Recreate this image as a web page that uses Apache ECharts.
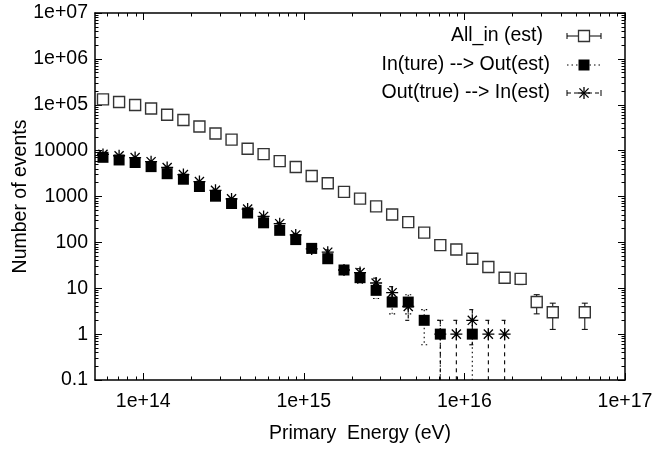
<!DOCTYPE html>
<html>
<head>
<meta charset="utf-8">
<script src="https://cdn.jsdelivr.net/npm/echarts@6/dist/echarts.min.js"></script>
<style>
  html, body { margin: 0; padding: 0; background: #fff; }
  #chart { width: 652px; height: 450px; }
</style>
</head>
<body>
<div id="chart"></div>
<script>
// Bin centres of primary energy (eV), 0.1 decade wide
const energy = [5.62e13, 7.08e13, 8.91e13, 1.12e14, 1.41e14, 1.78e14, 2.24e14, 2.82e14, 3.55e14, 4.47e14,
                5.62e14, 7.08e14, 8.91e14, 1.12e15, 1.41e15, 1.78e15, 2.24e15, 2.82e15, 3.55e15, 4.47e15,
                5.62e15, 7.08e15, 8.91e15, 1.12e16, 1.41e16, 1.78e16, 2.24e16, 2.82e16, 3.55e16, 4.47e16,
                5.62e16];

// Event counts per bin (null = empty bin)
const allIn   = [131000, 115000, 99000, 83000, 60500, 46500, 33500, 23700, 17400, 11000,
                 8400, 5900, 4400, 2800, 1950, 1260, 900, 608, 404, 276,
                 163, 87, 70, 44, 29, 17, 16, 5, 3, null, 3];
const inToOut = [7150, 6260, 5510, 4480, 3140, 2380, 1650, 1015, 704, 437,
                 267, 183, 115, 74, 44, 25, 17, 9, 5, 5,
                 2, 1, null, 1, null, null, null, null, null, null, null];
const outToIn = [8280, 7740, 7050, 5730, 4290, 3000, 2120, 1360, 887, 532,
                 368, 255, 145, 72, 61, 25, 22, 13, 8, 4,
                 null, 1, 1, 2, 1, 1, null, null, null, null, null];

const seriesNames = ['All_in (est)', 'In(ture) --> Out(est)', 'Out(true) --> In(est)'];

const xMajorTicks = [1e14, 1e15, 1e16, 1e17];
const xTickLabels = ['1e+14', '1e+15', '1e+16', '1e+17'];
const yMajorTicks = [0.1, 1, 10, 100, 1000, 1e4, 1e5, 1e6, 1e7];
const yTickLabels = ['0.1', '1', '10', '100', '1000', '10000', '1e+05', '1e+06', '1e+07'];

const X_MIN = Math.pow(10, 13.7);
const X_MAX = 1e17;
const Y_MIN = 0.1;
const Y_MAX = 1e7;

const FONT = '"Liberation Sans", Arial, Helvetica, sans-serif';
const FONT_SIZE = 19.5;

// minor ticks at 2..9 of every decade inside a range
function minorTicks(lo, hi) {
  const out = [];
  for (let e = Math.floor(Math.log10(lo)); e <= Math.ceil(Math.log10(hi)); e++) {
    for (let m = 2; m <= 9; m++) {
      const v = m * Math.pow(10, e);
      if (v > lo && v < hi) out.push(v);
    }
  }
  return out;
}

function labelFor(ticks, labels) {
  return function (val) {
    let best = 0, bestD = Infinity;
    ticks.forEach((t, i) => {
      const d = Math.abs(Math.log10(t) - Math.log10(val));
      if (d < bestD) { bestD = d; best = i; }
    });
    return labels[best];
  };
}

const points = (vals) => vals.map((v, i) => v == null ? null : [energy[i], v]).filter(Boolean);

// Poisson error bars: [x, low, high, hasLowCap]
const errors = (vals) => vals.map((v, i) => {
  if (v == null) return null;
  const s = Math.sqrt(v);
  const lo = v - s;
  return lo > Y_MIN ? [energy[i], lo, v + s, 1] : [energy[i], Y_MIN, v + s, 0];
}).filter(Boolean);

function errorBarRenderer(dash, capHalf, width) {
  return function (params, api) {
    const x = api.value(0);
    const top = api.coord([x, api.value(2)]);
    const bot = api.coord([x, api.value(1)]);
    const style = { stroke: '#000', lineWidth: width, lineDash: dash, fill: null };
    const children = [
      { type: 'line', shape: { x1: top[0], y1: top[1], x2: bot[0], y2: bot[1] }, style: style },
      { type: 'line', shape: { x1: top[0] - capHalf, y1: top[1], x2: top[0] + capHalf, y2: top[1] }, style: style }
    ];
    if (api.value(3) > 0) {
      children.push({ type: 'line', shape: { x1: bot[0] - capHalf, y1: bot[1], x2: bot[0] + capHalf, y2: bot[1] }, style: style });
    }
    return { type: 'group', children: children };
  };
}

const STAR_PATH = 'path://M5,0L5,10M0,5L10,5M1.2,1.2L8.8,8.8M8.8,1.2L1.2,8.8';

const axisLineStyle = { color: '#000', width: 1.5 };

function xAxisDef(position, major, showLabels) {
  return {
    type: 'log', logBase: 10, min: X_MIN, max: X_MAX, position: position,
    axisLine: { show: major, lineStyle: axisLineStyle },
    axisTick: { show: true, inside: true, length: major ? 7 : 3.5,
                customValues: major ? xMajorTicks : minorTicks(X_MIN, X_MAX),
                lineStyle: { color: '#000', width: 1 } },
    axisLabel: showLabels ? {
      show: true, customValues: xMajorTicks, formatter: labelFor(xMajorTicks, xTickLabels),
      margin: 12, color: '#000', fontSize: FONT_SIZE, fontFamily: FONT
    } : { show: false },
    splitLine: { show: false }
  };
}

function yAxisDef(position, major, showLabels) {
  return {
    type: 'log', logBase: 10, min: Y_MIN, max: Y_MAX, position: position,
    axisLine: { show: major, lineStyle: axisLineStyle },
    axisTick: { show: true, inside: true, length: major ? 7 : 3.5,
                customValues: major ? yMajorTicks : minorTicks(Y_MIN, Y_MAX),
                lineStyle: { color: '#000', width: 1 } },
    axisLabel: showLabels ? {
      show: true, customValues: yMajorTicks, formatter: labelFor(yMajorTicks, yTickLabels),
      margin: 7, color: '#000', fontSize: FONT_SIZE, fontFamily: FONT
    } : { show: false },
    splitLine: { show: false }
  };
}

const xAxes = [
  Object.assign(xAxisDef('bottom', true, true), {
    name: 'Primary  Energy (eV)', nameLocation: 'middle', nameGap: 44, nameMoveOverlap: false,
    nameTextStyle: { color: '#000', fontSize: FONT_SIZE, fontFamily: FONT }
  }),
  xAxisDef('top', true, false),
  xAxisDef('bottom', false, false),
  xAxisDef('top', false, false)
];
const yAxes = [
  Object.assign(yAxisDef('left', true, true), {
    name: 'Number of events', nameLocation: 'middle', nameGap: 64, nameMoveOverlap: false,
    nameTextStyle: { color: '#000', fontSize: FONT_SIZE, fontFamily: FONT }
  }),
  yAxisDef('right', true, false),
  yAxisDef('left', false, false),
  yAxisDef('right', false, false)
];

// Legend drawn in the plot's upper-right corner
const legendRows = [36, 65, 93];
const legendTextRight = [543, 550, 550];
const legendSymX = 584;
const legendHalf = 17;
const legendDash = [null, [1.5, 3], [4, 3]];

function legendSymbol(i, y) {
  const style = { stroke: '#000', lineWidth: 1, lineDash: legendDash[i], fill: null };
  const items = [
    { type: 'line', shape: { x1: legendSymX - legendHalf, y1: y, x2: legendSymX + legendHalf, y2: y }, style: style }
  ];
  if (i !== 1) {
    items.push(
      { type: 'line', shape: { x1: legendSymX - legendHalf, y1: y - 3, x2: legendSymX - legendHalf, y2: y + 3 }, style: { stroke: '#000', lineWidth: 1 } },
      { type: 'line', shape: { x1: legendSymX + legendHalf, y1: y - 3, x2: legendSymX + legendHalf, y2: y + 3 }, style: { stroke: '#000', lineWidth: 1 } }
    );
  }
  if (i === 0) {
    items.push({ type: 'rect', shape: { x: legendSymX - 5.5, y: y - 5.5, width: 11, height: 11 },
                 style: { fill: '#fff', stroke: '#333', lineWidth: 1.3 } });
  } else if (i === 1) {
    items.push({ type: 'rect', shape: { x: legendSymX - 5.5, y: y - 5.5, width: 11, height: 11 },
                 style: { fill: '#000' } });
  } else {
    const r = 6, d = 4.6;
    const st = { stroke: '#000', lineWidth: 1.3 };
    items.push(
      { type: 'line', shape: { x1: legendSymX, y1: y - r, x2: legendSymX, y2: y + r }, style: st },
      { type: 'line', shape: { x1: legendSymX - r, y1: y, x2: legendSymX + r, y2: y }, style: st },
      { type: 'line', shape: { x1: legendSymX - d, y1: y - d, x2: legendSymX + d, y2: y + d }, style: st },
      { type: 'line', shape: { x1: legendSymX + d, y1: y - d, x2: legendSymX - d, y2: y + d }, style: st }
    );
  }
  return items;
}

const legendGraphics = [];
seriesNames.forEach((name, i) => {
  const y = legendRows[i];
  legendGraphics.push({
    type: 'text', x: legendTextRight[i], y: y,
    style: { text: name, fill: '#000', font: FONT_SIZE + 'px ' + FONT, align: 'right', verticalAlign: 'middle' }
  });
  legendSymbol(i, y).forEach(g => legendGraphics.push(g));
});

const chart = echarts.init(document.getElementById('chart'), null, { renderer: 'canvas' });
chart.setOption({
  animation: false,
  backgroundColor: '#fff',
  grid: { left: 95, right: 27, top: 13, bottom: 70, containLabel: false, outerBoundsMode: 'none' },
  xAxis: xAxes,
  yAxis: yAxes,
  graphic: legendGraphics,
  series: [
    { name: seriesNames[0] + ' err', type: 'custom', xAxisIndex: 0, yAxisIndex: 0,
      renderItem: errorBarRenderer(null, 3, 1), data: errors(allIn), encode: { x: 0, y: [1, 2] }, z: 2 },
    { name: seriesNames[0], type: 'scatter', xAxisIndex: 0, yAxisIndex: 0,
      symbol: 'rect', symbolSize: 11, data: points(allIn),
      itemStyle: { color: '#fff', borderColor: '#333', borderWidth: 1.4, opacity: 1 }, z: 3 },
    { name: seriesNames[1] + ' err', type: 'custom', xAxisIndex: 0, yAxisIndex: 0,
      renderItem: errorBarRenderer([1.5, 3], 3, 1.1), data: errors(inToOut), encode: { x: 0, y: [1, 2] }, z: 4 },
    { name: seriesNames[1], type: 'scatter', xAxisIndex: 0, yAxisIndex: 0,
      symbol: 'rect', symbolSize: 11, data: points(inToOut),
      itemStyle: { color: '#000', opacity: 1 }, z: 5 },
    { name: seriesNames[2] + ' err', type: 'custom', xAxisIndex: 0, yAxisIndex: 0,
      renderItem: errorBarRenderer([4, 4], 3, 1.1), data: errors(outToIn), encode: { x: 0, y: [1, 2] }, z: 6 },
    { name: seriesNames[2], type: 'scatter', xAxisIndex: 0, yAxisIndex: 0,
      symbol: STAR_PATH, symbolSize: 12, data: points(outToIn),
      itemStyle: { color: 'rgba(0,0,0,0)', borderColor: '#000', borderWidth: 1.3, opacity: 1 }, z: 7 }
  ]
});
</script>
</body>
</html>
